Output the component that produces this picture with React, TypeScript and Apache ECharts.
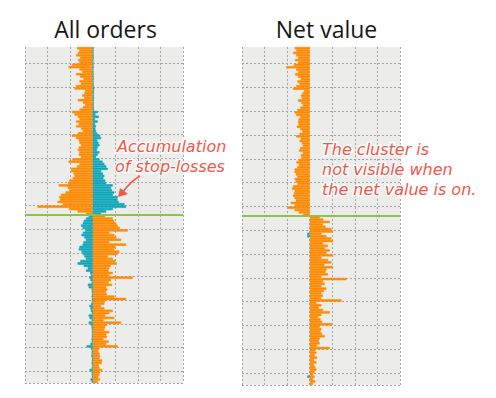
import React, { useEffect, useRef } from "react";
import * as echarts from "echarts";

const panelTitles = ["All orders", "Net value"];

// Sell-side / buy-side order volume per price level (top row = highest price)
const sellOrders = [
  -0.70, -0.59, -0.66, -0.74, -0.56, -0.64, -0.59, -0.92, -1.07, -0.59,
  -0.47, -0.74, -0.56, -0.41, -0.59, -0.52, -0.74, -0.81, -0.33, -0.37,
  -0.47, -0.37, -0.66, -0.44, -0.33, -0.44, -0.59, -0.92, -0.81, -0.66,
  -0.59, -0.74, -0.62, -0.74, -0.52, -0.44, -0.66, -0.92, -0.74, -0.62,
  -0.59, -0.52, -0.62, -0.66, -0.59, -0.62, -0.52, -0.90,
  -1.07, -0.59, -0.70, -0.96, -0.96, -0.85, -0.81, -0.89, -1.04, -1.10,
  -1.51, -1.11, -1.04, -1.20, -1.41, -1.48, -1.45, -1.56, -1.33, -2.44,
  -1.04, -0.67, -0.30,
  0.55, 0.89, 0.95, 1.04, 1.11, 1.20, 1.56, 0.74, 0.96, 1.05,
  1.26, 0.74, 1.48, 1.00, 0.96, 1.18, 1.10, 0.67, 0.89, 1.00,
  1.07, 0.80, 0.74, 0.70,
  0.89, 0.74, 1.78, 0.81, 0.71, 0.86, 0.59, 0.65, 0.59, 0.62,
  0.96, 1.48, 0.55, 0.52, 0.37, 0.52, 0.89, 0.74, 0.56, 0.96,
  0.48, 1.26, 0.63, 0.55, 0.52, 0.74, 0.60, 0.63, 0.48, 0.71,
  0.60, 1.11, 0.30, 0.25, 0.30, 0.33, 0.30, 0.42, 0.40, 0.26,
  0.30, 0.42, 0.33, 0.30, 0.25, 0.33, 0.22,
];

const buyOrders = [
  0.04, 0.04, 0.03, 0.04, 0.04, 0.03, 0.03, 0.03, 0.04, 0.03,
  0.03, 0.04, 0.04, 0.04, 0.03, 0.04, 0.04, 0.07, 0.05, 0.05,
  0.05, 0.06, 0.05, 0.05, 0.04, 0.05, 0.05, 0.22, 0.12, 0.27,
  0.10, 0.22, 0.10, 0.15, 0.12, 0.15, 0.20, 0.33, 0.37, 0.20,
  0.25, 0.30, 0.22, 0.18, 0.30, 0.22, 0.15, 0.30,
  0.44, 0.52, 0.60, 0.67, 0.37, 0.45, 0.52, 0.47, 0.56, 0.60,
  0.89, 0.81, 0.85, 0.96, 0.89, 1.11, 1.10, 1.16, 1.41, 1.48,
  0.89, 0.60, 0.37,
  -0.18, -0.30, -0.40, -0.44, -0.52, -0.45, -0.33, -0.44, -0.50, -0.37,
  -0.30, -0.41, -0.45, -0.59, -0.62, -0.50, -0.44, -0.37, -0.30, -0.55,
  -0.67, -0.40, -0.22, -0.30,
  -0.12, -0.08, -0.15, -0.10, -0.05, -0.22, -0.18, -0.05, -0.04, -0.03,
  -0.05, -0.03, -0.04, -0.07, -0.15, -0.10, -0.08, -0.04, -0.18, -0.14,
  -0.05, -0.18, -0.08, -0.05, -0.04, -0.03, -0.04, -0.03, -0.05, -0.04,
  -0.10, -0.27, -0.08, -0.04, -0.05, -0.06, -0.03, -0.04, -0.05, -0.03,
  -0.04, -0.14, -0.05, -0.04, -0.03, -0.10, -0.05,
];

const netValue = [
  -0.67, -0.60, -0.74, -0.60, -0.52, -0.65, -0.52, -0.70, -1.04, -0.60,
  -0.50, -0.65, -0.52, -0.40, -0.55, -0.45, -0.60, -0.74, -0.25, -0.33,
  -0.40, -0.35, -0.52, -0.37, -0.30, -0.42, -0.55, -0.67, -0.60, -0.42,
  -0.50, -0.52, -0.50, -0.57, -0.42, -0.33, -0.45, -0.60, -0.40, -0.45,
  -0.35, -0.30, -0.42, -0.48, -0.30, -0.40, -0.37, -0.50,
  -0.59, -0.48, -0.55, -0.67, -0.67, -0.62, -0.55, -0.67, -0.62, -0.55,
  -0.74, -0.79, -0.67, -0.70, -0.74, -0.67, -0.62, -0.84, -0.67, -0.99,
  -0.67, -0.49, -0.30,
  0.44, 0.60, 0.89, 0.59, 0.70, 0.96, 1.04, 0.52, 0.74, 0.96,
  1.04, 0.59, 0.81, 0.67, 0.89, 0.74, 1.04, 0.52, 0.81, 0.96,
  0.65, 1.04, 0.74, 0.70,
  0.81, 0.52, 1.63, 0.59, 0.67, 0.52, 0.74, 0.63, 0.52, 0.59,
  0.50, 1.41, 0.30, 0.52, 0.40, 0.59, 0.89, 0.52, 0.37, 0.48,
  0.55, 0.99, 0.44, 0.52, 0.48, 0.55, 0.67, 0.44, 0.40, 0.44,
  0.33, 0.89, 0.25, 0.30, 0.22, 0.33, 0.19, 0.30, 0.19, 0.25,
  0.30, 0.22, 0.15, 0.22, 0.15, 0.25, 0.15,
];

// small opposite-side remnants visible in the net panel: [value, row]
const netOppositeMarks = [
  [-0.11, 78],
  [-0.11, 79],
  [-0.11, 138],
];

const priceLevels = sellOrders.map((_, i) => `P${i + 1}`);
const currentPriceBoundary = 71; // rows above = asks, below = bids

const leftNote = ["Accumulation", "of stop-losses"];
const rightNote = ["The cluster is", "not visible when", "the net value is on."];

const ORANGE = "#ff8a00";
const TEAL = "#0ea6bb";
const GREEN = "#8dc349";
const NOTE_RED = "#f0584a";

export default function App() {
  const ref = useRef<HTMLDivElement>(null);

  useEffect(() => {
    if (!ref.current) return;
    const chart = echarts.init(ref.current, undefined, { renderer: "svg" });

    const grids = [
      { left: 25, top: 47, width: 158, height: 336 },
      { left: 242, top: 47, width: 158, height: 338 },
    ];

    const xAxis = grids.map((_, gi) => ({
      type: "value",
      gridIndex: gi,
      min: -3,
      max: 4,
      interval: 1,
      axisLabel: { show: false },
      axisLine: { show: false },
      axisTick: { show: false },
      splitLine: { show: true, lineStyle: { color: "#a3a3a3", type: [2, 2], width: 1 } },
    }));

    const catAxes = grids.map((_, gi) => ({
      type: "category",
      gridIndex: gi,
      data: priceLevels,
      inverse: true,
      axisLabel: { show: false },
      axisLine: { show: false },
      axisTick: { show: false },
      splitLine: {
        show: true,
        interval: (index: number) => index % 10 === 7,
        lineStyle: { color: "#a3a3a3", type: [2, 2], width: 1 },
      },
    }));

    const valAxes = grids.map((_, gi) => ({
      type: "value",
      gridIndex: gi,
      min: 0,
      max: priceLevels.length,
      inverse: true,
      show: false,
      splitLine: { show: false },
    }));

    const barCommon = {
      type: "bar",
      barGap: "-100%",
      barCategoryGap: "0%",
      silent: true,
    };

    const barStyle = (color: string) => ({
      color,
      borderColor: color,
      borderWidth: 0.6,
    });

    const priceLine = (gi: number) => ({
      type: "line",
      xAxisIndex: gi,
      yAxisIndex: 2 + gi,
      data: [],
      silent: true,
      markLine: {
        symbol: "none",
        silent: true,
        label: { show: false },
        lineStyle: { color: GREEN, width: 2, type: "solid" },
        data: [{ yAxis: currentPriceBoundary }],
      },
    });

    const noteStyle = (text: string, x: number, y: number, size: number) => ({
      type: "text",
      x,
      y,
      z: 100,
      style: {
        text,
        fill: NOTE_RED,
        fontSize: size,
        fontStyle: "italic",
        fontFamily: "DejaVu Sans",
        align: "left",
        verticalAlign: "middle",
        stroke: "rgba(255,255,255,0.9)",
        lineWidth: 3,
      },
    });

    chart.setOption({
      animation: false,
      backgroundColor: "#ffffff",
      grid: grids.map((g) => ({
        ...g,
        show: true,
        backgroundColor: "#ecedea",
        borderWidth: 0,
      })),
      xAxis,
      yAxis: [...catAxes, ...valAxes],
      series: [
        { ...barCommon, name: "Sell", xAxisIndex: 0, yAxisIndex: 0, data: sellOrders, itemStyle: barStyle(ORANGE) },
        { ...barCommon, name: "Buy", xAxisIndex: 0, yAxisIndex: 0, data: buyOrders, itemStyle: barStyle(TEAL) },
        { ...barCommon, name: "Net", xAxisIndex: 1, yAxisIndex: 1, data: netValue, itemStyle: barStyle(ORANGE) },
        { ...barCommon, name: "NetOpp", xAxisIndex: 1, yAxisIndex: 1, data: netOppositeMarks, itemStyle: barStyle(TEAL) },
        priceLine(0),
        priceLine(1),
      ],
      graphic: [
        {
          type: "text",
          x: 105.5,
          y: 29,
          style: {
            text: panelTitles[0],
            fill: "#161616",
            fontSize: 23,
            fontFamily: "Open Sans",
            align: "center",
            verticalAlign: "middle",
          },
        },
        {
          type: "text",
          x: 326.5,
          y: 29,
          style: {
            text: panelTitles[1],
            fill: "#161616",
            fontSize: 23,
            fontFamily: "Open Sans",
            align: "center",
            verticalAlign: "middle",
          },
        },
        noteStyle(leftNote[0], 117, 146, 16),
        noteStyle(leftNote[1], 115, 166, 16),
        noteStyle(rightNote[0], 322, 149, 16),
        noteStyle(rightNote[1], 322, 169, 16),
        noteStyle(rightNote[2], 322, 189, 16),
        {
          type: "bezierCurve",
          z: 100,
          shape: { x1: 140, y1: 176, x2: 122, y2: 193, cpx1: 131, cpy1: 181 },
          style: { stroke: NOTE_RED, lineWidth: 1.5, fill: "none" },
        },
        {
          type: "polygon",
          z: 100,
          shape: { points: [[118, 197], [120, 188], [128, 194]] },
          style: { fill: NOTE_RED },
        },
      ],
    });

    return () => chart.dispose();
  }, []);

  return (
    <div
      ref={ref}
      style={{ position: "absolute", left: 0, top: 0, width: 496, height: 398 }}
    />
  );
}
